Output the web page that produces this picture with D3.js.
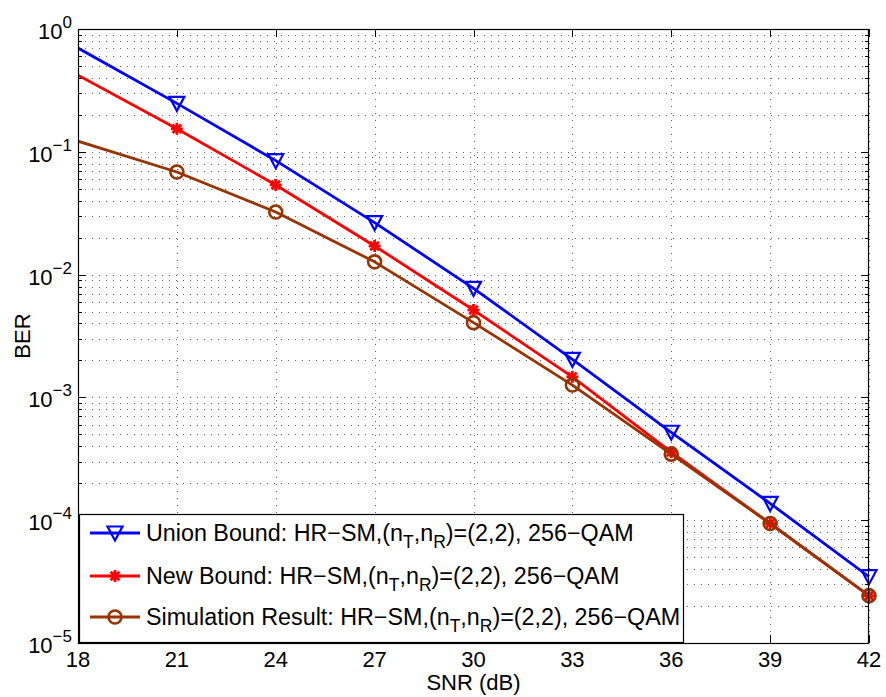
<!DOCTYPE html>
<html>
<head>
<meta charset="utf-8">
<script src="https://cdn.jsdelivr.net/npm/d3@7"></script>
<style>
  html, body { margin: 0; padding: 0; background: #fff; }
  text { font-family: "Liberation Sans", Arial, Helvetica, sans-serif; fill: #000; }
</style>
</head>
<body>
<svg id="chart" width="886" height="697"></svg>
<script>
// ---- data ----
const snr = [18, 21, 24, 27, 30, 33, 36, 39, 42];
const unionBound = [0.70, 0.248, 0.0847, 0.0265, 0.00773, 0.00204, 5.2e-4, 1.37e-4, 3.47e-5];
const newBound   = [0.42, 0.154, 0.0537, 0.0171, 0.00515, 0.00147, 3.59e-4, 9.4e-5, 2.43e-5];
const simResult  = [0.122, 0.0685, 0.0323, 0.0127, 0.00406, 0.00126, 3.45e-4, 9.4e-5, 2.43e-5];
const xTicks = [18, 21, 24, 27, 30, 33, 36, 39, 42];
const yExponents = [0, -1, -2, -3, -4, -5];
const seriesNames = ["Union Bound", "New Bound", "Simulation Result"];
const xLabel = "SNR (dB)";
const yLabel = "BER";

// ---- layout ----
const L = 78, R = 869, T = 29, B = 643;
const svg = d3.select("#chart");
const x = d3.scaleLinear().domain([18, 42]).range([L, R]);
const y = d3.scaleLog().domain([1e-5, 1]).range([B, T]);

const colors = ["#0000ff", "#ff0000", "#993300"];
const series = [
  {name: seriesNames[0], values: unionBound, color: colors[0], marker: "tri"},
  {name: seriesNames[1], values: newBound, color: colors[1], marker: "star"},
  {name: seriesNames[2], values: simResult, color: colors[2], marker: "circ"}
];

// ---- grid ----
const grid = svg.append("g");
const minorVals = [];
for (let e = -5; e < 0; e++) for (let m = 1; m <= 9; m++) minorVals.push(m * Math.pow(10, e));
minorVals.push(1);
grid.selectAll("line.hg").data(minorVals).enter().append("line")
  .attr("x1", L).attr("x2", R)
  .attr("y1", d => Math.round(y(d)) + 0.5).attr("y2", d => Math.round(y(d)) + 0.5)
  .attr("stroke", "#666").attr("stroke-width", 1).attr("stroke-dasharray", "1,6");
grid.selectAll("line.vg").data(xTicks).enter().append("line")
  .attr("x1", d => Math.round(x(d)) + 0.5).attr("x2", d => Math.round(x(d)) + 0.5)
  .attr("y1", T).attr("y2", B)
  .attr("stroke", "#666").attr("stroke-width", 1).attr("stroke-dasharray", "1,6");

// ---- ticks ----
const ticks = svg.append("g").attr("stroke", "#000").attr("stroke-width", 1);
xTicks.forEach(t => {
  const px = Math.round(x(t)) + 0.5;
  ticks.append("line").attr("x1", px).attr("x2", px).attr("y1", B).attr("y2", B - 8);
  ticks.append("line").attr("x1", px).attr("x2", px).attr("y1", T).attr("y2", T + 8);
});
minorVals.forEach(v => {
  const py = Math.round(y(v)) + 0.5;
  const isMajor = Math.abs(Math.log10(v) - Math.round(Math.log10(v))) < 1e-9;
  const len = isMajor ? 8 : 4;
  ticks.append("line").attr("x1", L).attr("x2", L + len).attr("y1", py).attr("y2", py);
  ticks.append("line").attr("x1", R).attr("x2", R - len).attr("y1", py).attr("y2", py);
});

// ---- tick labels ----
const fs = 22;
svg.append("g").selectAll("text").data(xTicks).enter().append("text")
  .attr("x", d => x(d)).attr("y", B + 24)
  .attr("text-anchor", "middle").attr("font-size", fs)
  .text(d => d);
const yl = svg.append("g").selectAll("text").data(yExponents).enter().append("text")
  .attr("x", L - 6).attr("y", d => y(Math.pow(10, d)) + 10)
  .attr("text-anchor", "end").attr("font-size", fs);
yl.append("tspan").text("10");
yl.append("tspan").attr("dy", -11).attr("font-size", 17).text(d => d === 0 ? "0" : "\u2212" + (-d));

// ---- axis labels ----
svg.append("text").attr("x", (L + R) / 2).attr("y", 690)
  .attr("text-anchor", "middle").attr("font-size", fs).text(xLabel);
svg.append("text").attr("transform", `translate(30,${(T + B) / 2}) rotate(-90)`)
  .attr("text-anchor", "middle").attr("font-size", fs).text(yLabel);

// ---- markers ----
function drawMarker(g, type, color, cx, cy) {
  if (type === "tri") {
    const w = 7.5, h = 6.5;
    g.append("path").attr("d", `M${cx - w},${cy - h}L${cx + w},${cy - h}L${cx},${cy + h + 1}Z`)
      .attr("fill", "none").attr("stroke", color).attr("stroke-width", 2.2).attr("stroke-linejoin", "miter");
  } else if (type === "star") {
    const r = 6;
    const sg = g.append("g").attr("stroke", color).attr("stroke-width", 2.8);
    [[r, 0], [0, r], [r * 0.72, r * 0.72], [r * 0.72, -r * 0.72]].forEach(([dx, dy]) => {
      sg.append("line").attr("x1", cx - dx).attr("y1", cy - dy).attr("x2", cx + dx).attr("y2", cy + dy);
    });
  } else {
    g.append("circle").attr("cx", cx).attr("cy", cy).attr("r", 6.5)
      .attr("fill", "none").attr("stroke", color).attr("stroke-width", 2.6);
  }
}

const clipId = "plotclip";
svg.append("clipPath").attr("id", clipId).append("rect")
  .attr("x", L).attr("y", T).attr("width", R - L).attr("height", B - T);

const line = d3.line().x((d, i) => x(snr[i])).y(d => y(d));
series.forEach(s => {
  const g = svg.append("g");
  g.append("path").datum(s.values).attr("d", line)
    .attr("fill", "none").attr("stroke", s.color).attr("stroke-width", 2.8)
    .attr("stroke-linejoin", "round").attr("clip-path", `url(#${clipId})`);
  s.values.forEach((v, i) => {
    if (i === 0) return; // first point has no marker
    drawMarker(g, s.marker, s.color, x(snr[i]), y(v));
  });
});

// ---- axes box ----
svg.append("rect").attr("x", L + 0.5).attr("y", T + 0.5).attr("width", R - L - 1).attr("height", B - T)
  .attr("fill", "none").attr("stroke", "#000").attr("stroke-width", 1.2);

// ---- legend ----
const lg = svg.append("g");
const lx = 79.5, ly = 514.5, lw = 604, lh = 128;
lg.append("rect").attr("x", lx).attr("y", ly).attr("width", lw).attr("height", lh)
  .attr("fill", "#fff").attr("stroke", "#000").attr("stroke-width", 1.2);
const rowY = [533, 576, 617];
const lfs = 23.3, sfs = 17.5;
series.forEach((s, i) => {
  const ry = rowY[i];
  lg.append("line").attr("x1", 90).attr("x2", 140).attr("y1", ry).attr("y2", ry)
    .attr("stroke", s.color).attr("stroke-width", 2.8);
  drawMarker(lg, s.marker, s.color, 115, ry);
  const t = lg.append("text").attr("x", 146).attr("y", ry + 8).attr("font-size", lfs);
  t.append("tspan").text(s.name + ": HR\u2212SM,(n");
  t.append("tspan").attr("dy", 7).attr("font-size", sfs).text("T");
  t.append("tspan").attr("dy", -7).text(",n");
  t.append("tspan").attr("dy", 7).attr("font-size", sfs).text("R");
  t.append("tspan").attr("dy", -7).text(")=(2,2), 256\u2212QAM");
});
</script>
</body>
</html>
